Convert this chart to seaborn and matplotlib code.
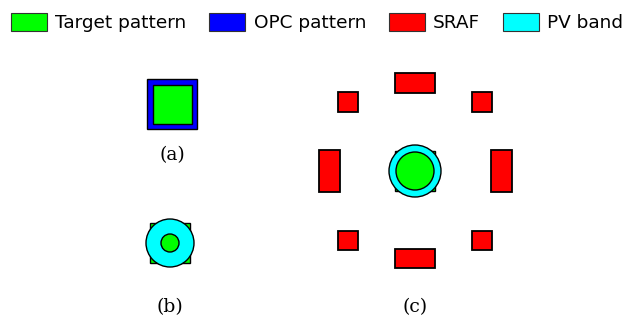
import matplotlib
matplotlib.use("Agg")
import matplotlib.pyplot as plt
from matplotlib.patches import Rectangle, Circle, Patch
import seaborn as sns

sns.set_theme(style="white")
plt.rcParams["font.family"] = ["DejaVu Sans"]
plt.rcParams["text.color"] = "black"

W, H = 626, 320

# Legend entries and fill colours
legend_labels = ["Target pattern", "OPC pattern", "SRAF", "PV band"]
legend_colors = ["#00ff00", "#0000ff", "#ff0000", "#00ffff"]

# Panel (a): target square inside its OPC-corrected square
a_center = (172, 104)
a_opc_size = 50
a_target_size = 39

# Panel (b): target square, PV band (outer contour) and inner contour
b_center = (170, 243)
b_target_size = 40
b_pv_outer_r = 24
b_pv_inner_r = 9

# Panel (c): same target with SRAFs placed around it
c_center = (415, 171)
c_target_size = 40
c_pv_outer_r = 26
c_pv_inner_r = 19
sraf_dx = [0, 0, -86, 86, -67, 67, -67, 67]
sraf_dy = [-88, 87, 0, 0, -69, -69, 69, 69]
sraf_w = [40, 40, 21, 21, 20, 20, 20, 20]
sraf_h = [20, 19, 42, 42, 20, 20, 19, 19]

# Panel captions
captions = ["(a)", "(b)", "(c)"]
caption_x = [172, 170, 415]
caption_y = [155, 307, 307]

fig = plt.figure(figsize=(W / 100, H / 100), dpi=100)
ax = fig.add_axes([0, 0, 1, 1])
ax.set_xlim(0, W)
ax.set_ylim(H, 0)
ax.set_aspect("equal")
ax.axis("off")

edge = dict(edgecolor="black", linewidth=1.0)


def square(center, size, color, z):
    cx, cy = center
    ax.add_patch(Rectangle((cx - size / 2, cy - size / 2), size, size,
                           facecolor=color, zorder=z, **edge))


def disc(center, r, color, z):
    ax.add_patch(Circle(center, r, facecolor=color, zorder=z, **edge))


# (a)
square(a_center, a_opc_size, legend_colors[1], 1)
square(a_center, a_target_size, legend_colors[0], 2)

# (b)
square(b_center, b_target_size, legend_colors[0], 1)
disc(b_center, b_pv_outer_r, legend_colors[3], 2)
disc(b_center, b_pv_inner_r, legend_colors[0], 3)

# (c)
square(c_center, c_target_size, legend_colors[0], 1)
disc(c_center, c_pv_outer_r, legend_colors[3], 2)
disc(c_center, c_pv_inner_r, legend_colors[0], 3)
for dx, dy, w, h in zip(sraf_dx, sraf_dy, sraf_w, sraf_h):
    cx, cy = c_center[0] + dx, c_center[1] + dy
    ax.add_patch(Rectangle((cx - w / 2, cy - h / 2), w, h,
                           facecolor=legend_colors[2], zorder=2,
                           edgecolor="black", linewidth=1.3))

for text, x, y in zip(captions, caption_x, caption_y):
    ax.text(x, y, text, ha="center", va="center", fontsize=13.5,
            family="DejaVu Serif", color="black")

handles = [Patch(facecolor=c, edgecolor="#333333", linewidth=0.8)
           for c in legend_colors]
fig.legend(handles, legend_labels, loc="upper left",
           bbox_to_anchor=(11 / W, 1 - 13 / H), ncol=4, frameon=False,
           fontsize=13.3, handlelength=1.95, handleheight=1.12,
           handletextpad=0.45, columnspacing=1.23,
           borderpad=0, borderaxespad=0, labelcolor="black")

fig.savefig("out.png", dpi=100, facecolor="white")
